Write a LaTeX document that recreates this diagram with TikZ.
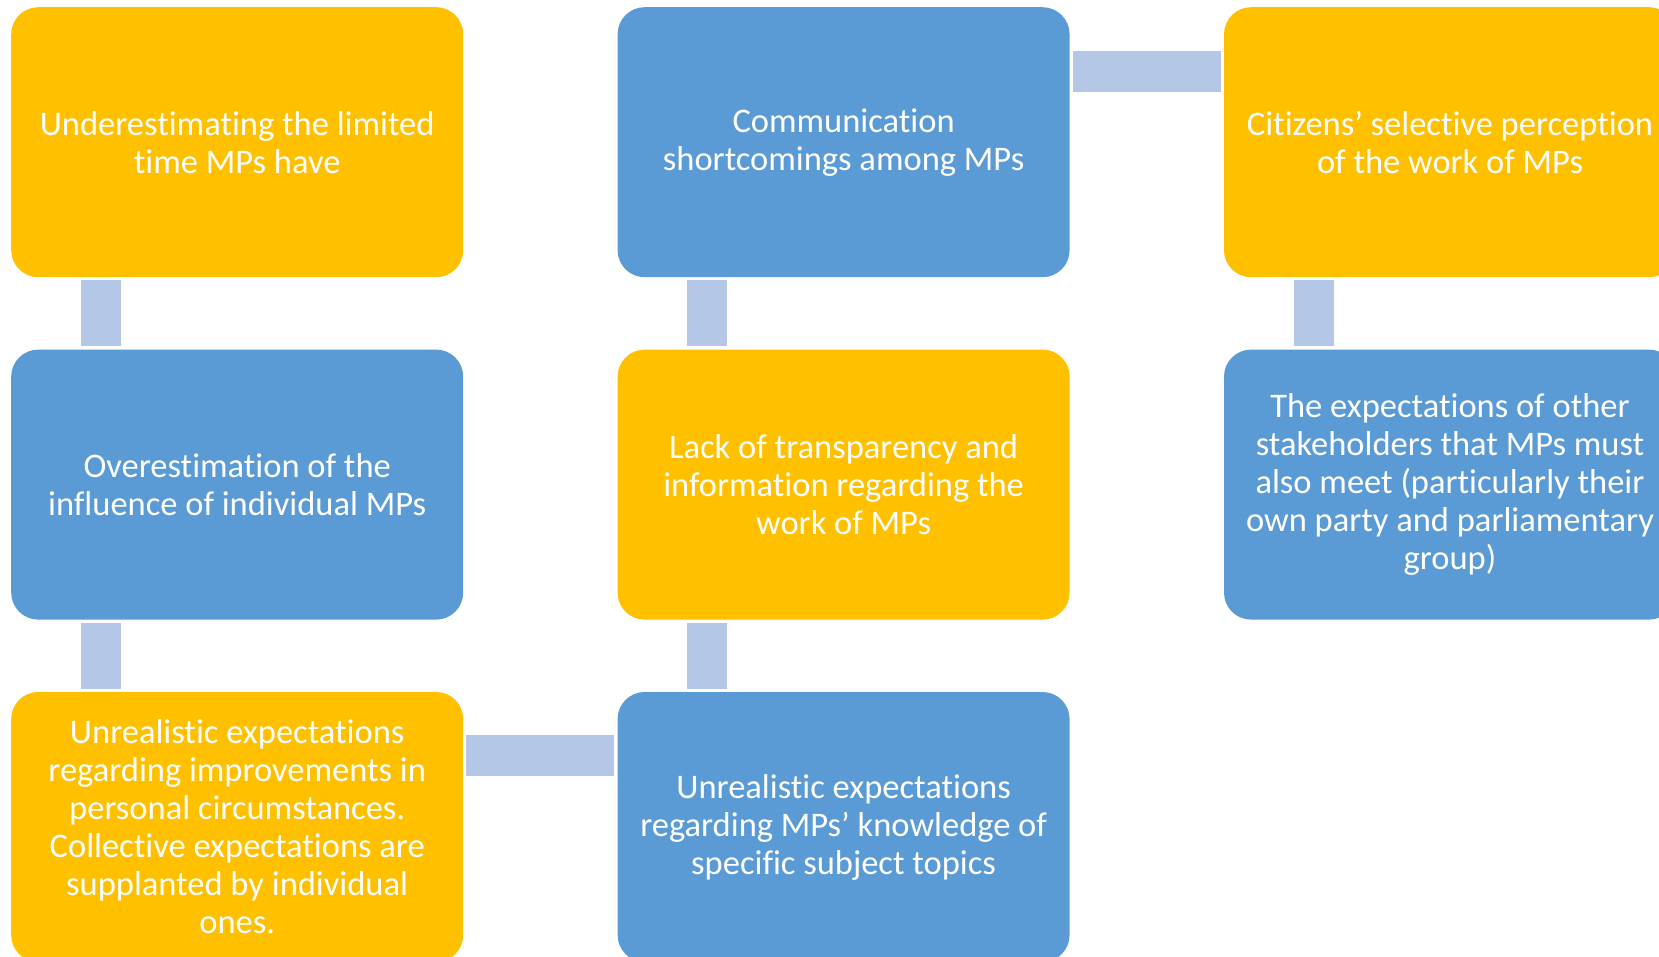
\documentclass[tikz,border=0pt]{standalone}
\usepackage{fontspec}
\setmainfont{Carlito}[Ligatures=NoCommon]
\usepackage{tikz}
\usetikzlibrary{positioning}
\definecolor{gold}{HTML}{FFC000}
\definecolor{boxblue}{HTML}{5B9BD5}
\definecolor{linkblue}{HTML}{B4C7E7}
\tikzstyle{link} = [line width=40pt, draw=linkblue, shorten >=3pt, shorten <=3pt]

\begin{document}
\begin{tikzpicture}[box/.style={rectangle, rounded corners=27pt, fill=#1, text=white, minimum width=452pt, minimum height=270pt, align=center, inner sep=0pt, font=\fontsize{34.5}{38}\selectfont}, node distance=72pt and 154pt]

		\useasboundingbox (0,0) rectangle (1659pt,-956pt);

		% BOXES

		\node [box=gold, anchor=north west] (underest) at (11pt,-7pt) {Underestimating the limited\\time MPs have};
		\node [box=boxblue, below=of underest] (overest) {Overestimation of the\\influence of individual MPs};
		\node [box=gold, below=of overest] (personal) {Unrealistic expectations\\regarding improvements in\\personal circumstances.\\Collective expectations are\\supplanted by individual\\ones.};

		\node [box=boxblue, right=of underest] (comm) {Communication\\shortcomings among MPs};
		\node [box=gold, below=of comm] (transp) {Lack of transparency and\\information regarding the\\work of MPs};
		\node [box=boxblue, below=of transp] (knowledge) {Unrealistic expectations\\regarding MPs’ knowledge of\\specific subject topics};

		\node [box=gold, right=of comm] (citizens) {Citizens’ selective perception\\of the work of MPs};
		\node [box=boxblue, below=of citizens] (others) {The expectations of other\\stakeholders that MPs must\\also meet (particularly their\\own party and parliamentary\\group)};

		% LINKS

		\draw [link] ([xshift=90pt]underest.south west) -- ([xshift=90pt]overest.north west);
		\draw [link] ([xshift=90pt]overest.south west) -- ([xshift=90pt]personal.north west);
		\draw [link] ([xshift=90pt]knowledge.north west) -- ([xshift=90pt]transp.south west);
		\draw [link] ([xshift=90pt]transp.north west) -- ([xshift=90pt]comm.south west);
		\draw [link] ([xshift=90pt]citizens.south west) -- ([xshift=90pt]others.north west);
		\draw [link, line width=41pt] ([yshift=-64pt]personal.north east) -- ([yshift=-64pt]knowledge.north west);
		\draw [link, line width=41pt] ([yshift=-64pt]comm.north east) -- ([yshift=-64pt]citizens.north west);

\end{tikzpicture}
\end{document}
